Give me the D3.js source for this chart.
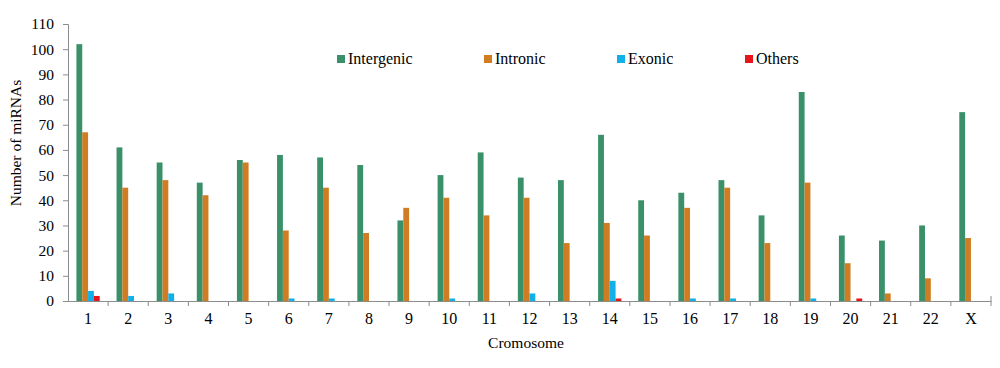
<!DOCTYPE html>
<html>
<head>
<meta charset="utf-8">
<script src="https://cdn.jsdelivr.net/npm/d3@7"></script>
<style>
    body { margin: 0; background: #fff; }
    #chart { width: 1000px; height: 368px; }
    text { font-family: "Liberation Serif", "Times New Roman", serif; fill: #000; }
</style>
</head>
<body>
<div id="chart"></div>
<script>

var chromosomes = ["1","2","3","4","5","6","7","8","9","10","11","12","13","14","15","16","17","18","19","20","21","22","X"];
var intergenic = [102, 61, 55, 47, 56, 58, 57, 54, 32, 50, 59, 49, 48, 66, 40, 43, 48, 34, 83, 26, 24, 30, 75];
var intronic   = [67, 45, 48, 42, 55, 28, 45, 27, 37, 41, 34, 41, 23, 31, 26, 37, 45, 23, 47, 15, 3, 9, 25];
var exonic     = [4, 2, 3, 0, 0, 1, 1, 0, 0, 1, 0, 3, 0, 8, 0, 1, 1, 0, 1, 0, 0, 0, 0];
var others     = [2, 0, 0, 0, 0, 0, 0, 0, 0, 0, 0, 0, 0, 1, 0, 0, 0, 0, 0, 1, 0, 0, 0];
var seriesNames = ["Intergenic", "Intronic", "Exonic", "Others"];
var seriesColors = ["#3a9068", "#d07c22", "#12b0e8", "#e8141c"];
var yTicks = [0, 10, 20, 30, 40, 50, 60, 70, 80, 90, 100, 110];

var width = 1000, height = 368;
var margin = {top: 24, left: 68, right: 9, bottom: 67};

var svg = d3.select("#chart")
    .append("svg")
    .attr("width", width)
    .attr("height", height);

var allSeries = [intergenic, intronic, exonic, others];
var data = chromosomes.map(function(c, i) {
    return {chrom: c, values: allSeries.map(function(s, k) { return {key: seriesNames[k], value: s[i]}; })};
});

var xScale = d3.scaleBand()
    .domain(chromosomes)
    .range([margin.left, width - margin.right]);

var groupWidth = 23.3;
var inner = d3.scaleBand()
    .domain(seriesNames)
    .range([0, groupWidth]);

var yScale = d3.scaleLinear()
    .domain([0, 110])
    .range([height - margin.bottom, margin.top]);

var colorScale = d3.scaleOrdinal()
    .domain(seriesNames)
    .range(seriesColors);

// y axis
var yAxis = svg.append("g")
    .attr("transform", `translate(${margin.left},0)`)
    .call(d3.axisLeft(yScale).tickValues(yTicks).tickSize(5).tickPadding(9));
yAxis.selectAll("text").style("font-size", "15.5px").style("font-family", "Liberation Serif");
yAxis.select(".domain").attr("stroke", "#8c8c8c");
yAxis.selectAll(".tick line").attr("stroke", "#8c8c8c");

// x axis: tick labels at centers, tick marks at boundaries
var xAxis = svg.append("g")
    .attr("transform", `translate(0,${height - margin.bottom})`)
    .call(d3.axisBottom(xScale).tickSize(0).tickPadding(12));
xAxis.selectAll("text").style("font-size", "16px").style("font-family", "Liberation Serif");
xAxis.select(".domain").attr("stroke", "#8c8c8c");

xAxis.selectAll(".sep")
    .data(chromosomes)
    .enter()
    .append("line")
        .attr("class", "sep")
        .attr("x1", function(d) { return xScale(d) + xScale.bandwidth(); })
        .attr("x2", function(d) { return xScale(d) + xScale.bandwidth(); })
        .attr("y1", function(d, i) { return i === chromosomes.length - 1 ? -5 : 0; })
        .attr("y2", 5)
        .attr("stroke", "#8c8c8c");

// bars
var groups = svg.selectAll(".grp")
    .data(data)
    .enter()
    .append("g")
        .attr("class", "grp")
        .attr("transform", function(d) {
            return `translate(${xScale(d.chrom) + xScale.bandwidth() / 2 - groupWidth / 2},0)`;
        });

groups.selectAll("rect")
    .data(function(d) { return d.values.filter(function(v) { return v.value > 0; }); })
    .enter()
    .append("rect")
        .attr("x", function(d) { return inner(d.key); })
        .attr("width", inner.bandwidth())
        .attr("y", function(d) { return yScale(d.value); })
        .attr("height", function(d) { return yScale(0) - yScale(d.value); })
        .attr("fill", function(d) { return colorScale(d.key); });

// legend
var legendX = [337, 484, 617, 745];
var legend = svg.selectAll(".legend")
    .data(seriesNames)
    .enter()
    .append("g")
        .attr("class", "legend")
        .attr("transform", function(d, i) { return `translate(${legendX[i]},59)`; });

legend.append("rect")
    .attr("x", 0)
    .attr("y", -4)
    .attr("width", 8)
    .attr("height", 8)
    .attr("fill", function(d) { return colorScale(d); });

legend.append("text")
    .attr("x", 11)
    .attr("y", 5)
    .style("font-size", "16px")
    .text(function(d) { return d; });

// axis titles
svg.append("text")
    .attr("x", 526)
    .attr("y", 348)
    .attr("text-anchor", "middle")
    .style("font-size", "15.5px")
    .text("Cromosome");

svg.append("text")
    .attr("transform", "rotate(-90)")
    .attr("x", -143)
    .attr("y", 21)
    .attr("text-anchor", "middle")
    .style("font-size", "15.5px")
    .text("Number of miRNAs");

</script>
</body>
</html>
